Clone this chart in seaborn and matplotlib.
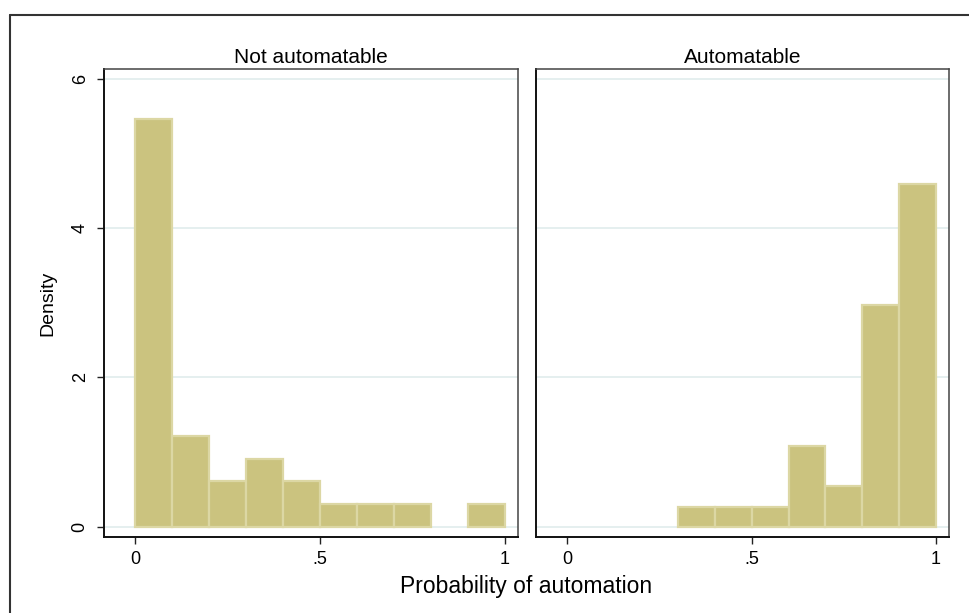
import numpy as np
import pandas as pd
import matplotlib
matplotlib.use("Agg")
import matplotlib.pyplot as plt
import seaborn as sns

# histogram bins (width .1) and the number of occupations in each bin
bin_edges = [0.0, 0.1, 0.2, 0.3, 0.4, 0.5, 0.6, 0.7, 0.8, 0.9, 1.0]
bin_mids = [0.05, 0.15, 0.25, 0.35, 0.45, 0.55, 0.65, 0.75, 0.85, 0.95]
not_auto_counts = [18, 4, 2, 3, 2, 1, 1, 1, 0, 1]
auto_counts = [0, 0, 0, 1, 1, 1, 4, 2, 11, 17]
panel_titles = ["Not automatable", "Automatable"]
x_ticks = [0, 0.5, 1]
x_ticklabels = ["0", ".5", "1"]
y_ticks = [0, 2, 4, 6]

df = pd.concat([
    pd.DataFrame({"prob": bin_mids, "count": not_auto_counts, "group": panel_titles[0]}),
    pd.DataFrame({"prob": bin_mids, "count": auto_counts, "group": panel_titles[1]}),
])

sns.set_style("white")
plt.rcParams["font.family"] = ["Liberation Sans", "DejaVu Sans"]
# stata draws its text in black, seaborn defaults to dark grey
plt.rcParams["text.color"] = "black"
plt.rcParams["axes.labelcolor"] = "black"
plt.rcParams["xtick.color"] = "black"
plt.rcParams["ytick.color"] = "black"

bar_color = "#cbc37f"
edge_color = "#dcd7a4"
grid_color = "#e3eeee"

fig = plt.figure(figsize=(9.69, 6.13), dpi=100)
ax1 = fig.add_axes([104 / 969, 1 - 537 / 613, 414 / 969, 468 / 613])
ax2 = fig.add_axes([536 / 969, 1 - 537 / 613, 413 / 969, 468 / 613], sharey=ax1)

for ax, title in zip([ax1, ax2], panel_titles):
    sub = df[df["group"] == title]
    sns.histplot(data=sub, x="prob", weights="count", bins=bin_edges,
                 stat="density", color=bar_color, edgecolor=edge_color,
                 linewidth=1.6, alpha=1, ax=ax, zorder=2)
    # drop the empty bins so they leave no outline on the baseline
    for p in list(ax.patches):
        if p.get_height() == 0:
            p.remove()
    ax.set_title(title, fontsize=15, pad=4, color="black")
    ax.set_xlim(-0.085, 1.035)
    ax.set_ylim(-0.138, 6.13)
    ax.set_xticks(x_ticks)
    ax.set_xticklabels(x_ticklabels)
    ax.set_yticks(y_ticks)
    ax.grid(axis="y", color=grid_color, linewidth=1.3, zorder=0)
    ax.set_axisbelow(True)
    ax.set_xlabel("")
    ax.set_ylabel("")
    ax.tick_params(axis="x", length=5, width=1, color="#222222",
                   labelcolor="black", labelsize=13, pad=5, bottom=True)
    for side in ["top", "right"]:
        ax.spines[side].set_color("#444444")
        ax.spines[side].set_linewidth(1.1)
    for side in ["left", "bottom"]:
        ax.spines[side].set_color("#111111")
        ax.spines[side].set_linewidth(1.4)

ax1.tick_params(axis="y", length=5, width=1, color="#222222",
                labelcolor="black", labelsize=13, pad=6, left=True)
for lab in ax1.get_yticklabels():
    lab.set_rotation(90)
    lab.set_va("center")
ax2.tick_params(axis="y", left=False, labelleft=False)

ax1.set_ylabel("Density", fontsize=14, labelpad=11, color="black")
fig.text((104 + 949) / 2 / 969, 1 - 586 / 613, "Probability of automation",
         ha="center", va="center", fontsize=16.5, color="black")

# outer graph frame (only its left and top sides fall inside the picture)
fig.add_artist(plt.Line2D([10 / 969, 10 / 969], [0, 1 - 15 / 613],
                          transform=fig.transFigure, color="#333333", linewidth=1.5))
fig.add_artist(plt.Line2D([10 / 969, 1], [1 - 15 / 613, 1 - 15 / 613],
                          transform=fig.transFigure, color="#333333", linewidth=1.5))

fig.savefig("out.png", dpi=100)
